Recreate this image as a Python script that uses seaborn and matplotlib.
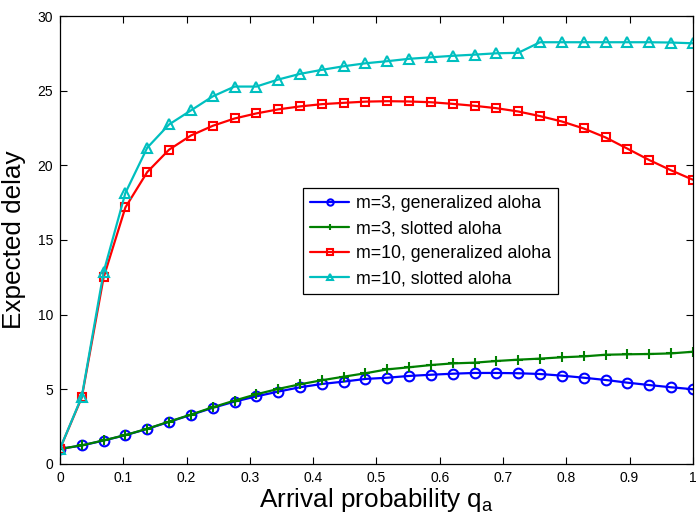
import numpy as np
import pandas as pd
import matplotlib
matplotlib.use("Agg")
import matplotlib.pyplot as plt
import seaborn as sns

# Arrival probability grid (30 points from 0 to 1)
q_a = [0.0, 0.0345, 0.069, 0.1034, 0.1379, 0.1724, 0.2069, 0.2414, 0.2759, 0.3103,
       0.3448, 0.3793, 0.4138, 0.4483, 0.4828, 0.5172, 0.5517, 0.5862, 0.6207, 0.6552,
       0.6897, 0.7241, 0.7586, 0.7931, 0.8276, 0.8621, 0.8966, 0.931, 0.9655, 1.0]

m3_generalized = [1.0, 1.23, 1.56, 1.92, 2.34, 2.81, 3.28, 3.75, 4.17, 4.52,
                  4.84, 5.13, 5.35, 5.51, 5.69, 5.77, 5.89, 5.97, 6.04, 6.09,
                  6.09, 6.07, 6.02, 5.91, 5.77, 5.62, 5.44, 5.28, 5.13, 5.0]
m3_slotted = [1.0, 1.24, 1.57, 1.93, 2.35, 2.83, 3.30, 3.79, 4.24, 4.66,
              5.02, 5.33, 5.60, 5.84, 6.07, 6.33, 6.47, 6.62, 6.73, 6.78,
              6.89, 6.98, 7.05, 7.14, 7.20, 7.31, 7.34, 7.36, 7.40, 7.51]
m10_generalized = [1.0, 4.45, 12.49, 17.18, 19.55, 21.05, 22.0, 22.65, 23.14, 23.48,
                   23.75, 23.95, 24.1, 24.19, 24.27, 24.3, 24.28, 24.23, 24.12, 23.99,
                   23.83, 23.61, 23.3, 22.94, 22.47, 21.87, 21.12, 20.36, 19.67, 19.04]
m10_slotted = [1.0, 4.5, 12.85, 18.15, 21.18, 22.74, 23.68, 24.62, 25.28, 25.28,
               25.75, 26.13, 26.4, 26.64, 26.84, 26.98, 27.14, 27.24, 27.34, 27.42,
               27.51, 27.54, 28.25, 28.25, 28.25, 28.25, 28.25, 28.25, 28.23, 28.18]

series_names = ["m=3, generalized aloha", "m=3, slotted aloha",
                "m=10, generalized aloha", "m=10, slotted aloha"]
series_values = [m3_generalized, m3_slotted, m10_generalized, m10_slotted]
series_colors = ["#0000ff", "#008000", "#ff0000", "#00bfbf"]
series_markers = ["o", "+", "s", "^"]

x_ticks = [0, 0.1, 0.2, 0.3, 0.4, 0.5, 0.6, 0.7, 0.8, 0.9, 1.0]
x_tick_labels = ["0", "0.1", "0.2", "0.3", "0.4", "0.5", "0.6", "0.7", "0.8", "0.9", "1"]
y_ticks = [0, 5, 10, 15, 20, 25, 30]

sns.set_style("ticks")
plt.rcParams["font.family"] = ["Liberation Sans", "DejaVu Sans"]
plt.rcParams["mathtext.fontset"] = "custom"
plt.rcParams["mathtext.rm"] = "Liberation Sans"
plt.rcParams["mathtext.it"] = "Liberation Sans"
plt.rcParams["text.color"] = "black"
plt.rcParams["axes.labelcolor"] = "black"

fig = plt.figure(figsize=(6.97, 5.2), dpi=100)
ax = fig.add_axes([0.086, 0.108, 0.908, 0.861])

for name, vals, col, mk in zip(series_names, series_values, series_colors, series_markers):
    df = pd.DataFrame({"q": q_a, "delay": vals})
    sns.lineplot(data=df, x="q", y="delay", ax=ax, color=col, marker=mk,
                 markersize=7 if mk != "s" else 6.3, markerfacecolor="none",
                 markeredgecolor=col, markeredgewidth=1.5, linewidth=1.6,
                 label=name)

ax.set_xlim(0, 1)
ax.set_ylim(0, 30)
ax.set_xticks(x_ticks)
ax.set_xticklabels(x_tick_labels)
ax.set_yticks(y_ticks)
ax.tick_params(direction="in", top=True, right=True, labelsize=10, length=5,
               width=0.8, colors="black", pad=5)
for s in ax.spines.values():
    s.set_visible(True)
    s.set_color("black")
    s.set_linewidth(0.9)

ax.set_xlabel("Arrival probability q$_{\\mathregular{a}}$", fontsize=18.8, labelpad=1)
ax.set_ylabel("Expected delay", fontsize=18.8, labelpad=8)

leg = ax.legend(loc="upper left", bbox_to_anchor=(0.384, 0.616), fontsize=12.8,
                frameon=True, fancybox=False, framealpha=1, edgecolor="black",
                markerscale=0.65, handlelength=2.2, borderpad=0.4,
                labelspacing=0.45, handletextpad=0.4, borderaxespad=0)
leg.get_frame().set_linewidth(0.9)

fig.savefig("out.png", dpi=100)
